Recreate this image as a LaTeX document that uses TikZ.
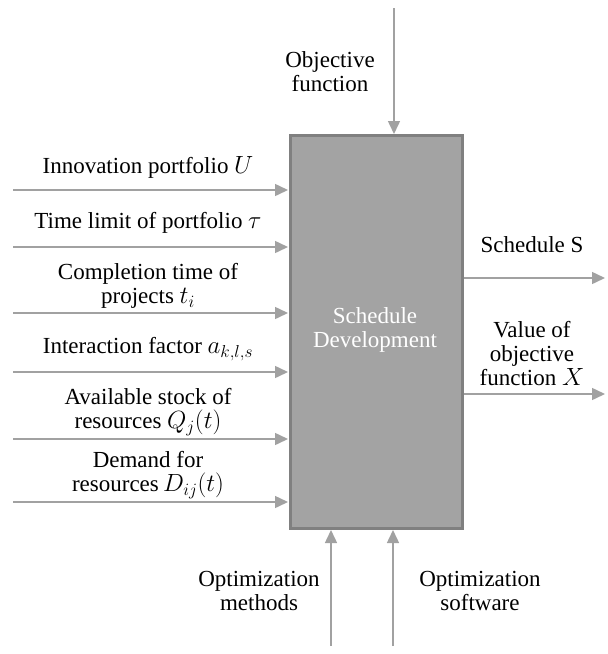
\documentclass[tikz,border=0pt]{standalone}
\usepackage{fontspec}
\setmainfont{Liberation Serif}
\usetikzlibrary{arrows.meta}
\begin{document}
\begin{tikzpicture}[x=1pt,y=-1pt,
  arr/.style={draw=black!37, line width=1.5pt, -{Triangle[length=13pt,width=12pt]}},
  lbl/.style={font=\fontsize{23}{24}\selectfont, align=center, inner sep=0pt},
  box/.style={draw=black!50, line width=3pt, fill=black!36, inner sep=0pt}]
\useasboundingbox (0,0) rectangle (608,654);
\node[box, minimum width=172pt, minimum height=393pt, anchor=north west] (B) at (289,134) {};
\node[lbl, text=white] (Bt) at (375,330) {Schedule\\Development};
% inputs
\foreach \n/\y in {i1/190,i2/247,i3/313,i4/372,i5/439,i6/502}{
  \coordinate (\n) at (13,\y);
  \coordinate (\n e) at (288,\y);
  \draw[arr] (\n) -- (\n e);
}
\node[lbl] (l1) at (148,167) {Innovation portfolio $U$};
\node[lbl] (l2) at (148,223) {Time limit of portfolio $\tau$};
\node[lbl] (l3) at (148,286) {Completion time of\\projects $t_i$};
\node[lbl] (l4) at (148,349) {Interaction factor $a_{k,l,s}$};
\node[lbl] (l5) at (148,412) {Available stock of\\resources $Q_j(t)$};
\node[lbl] (l6) at (148,475) {Demand for\\resources$\,D_{ij}(t)$};
% outputs
\coordinate (o1) at (605,278);
\coordinate (o2) at (605,394);
\draw[arr] (B.east |- o1) -- (o1);
\draw[arr] (B.east |- o2) -- (o2);
\node[lbl] (s1) at (532,245) {Schedule S};
\node[lbl] (s2) at (532,354) {Value of\\objective\\function $X$};
% control
\coordinate (c1) at (394,8);
\draw[arr] (c1) -- (c1 |- B.north);
\node[lbl] (t1) at (330,72) {Objective\\function};
% mechanisms
\coordinate (m1) at (331,646);
\coordinate (m2) at (393,646);
\draw[arr] (m1) -- (m1 |- B.south);
\draw[arr] (m2) -- (m2 |- B.south);
\node[lbl] (b1) at (259,591) {Optimization\\methods};
\node[lbl] (b2) at (480,591) {Optimization\\software};
\end{tikzpicture}
\end{document}
